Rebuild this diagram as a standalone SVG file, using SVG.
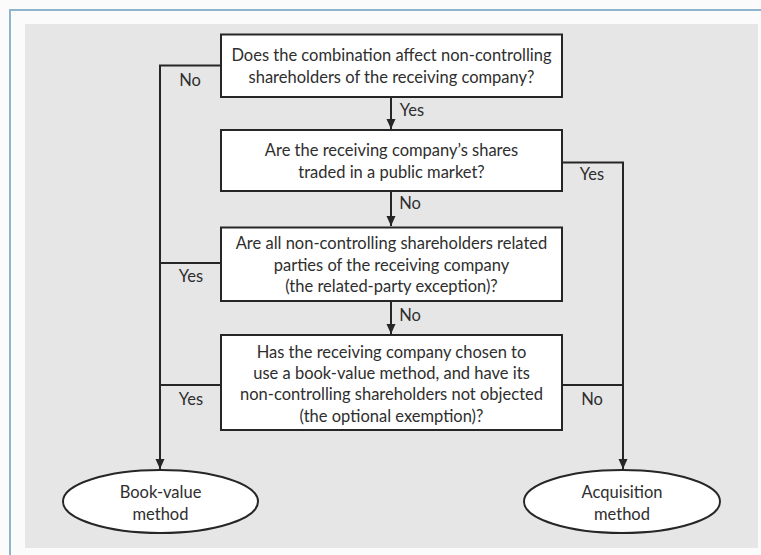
<svg xmlns="http://www.w3.org/2000/svg" width="761" height="555" viewBox="0 0 761 555">
  <style>
    .box { fill: #ffffff; stroke: #262626; stroke-width: 2; }
    .end { fill: #ffffff; stroke: #262626; stroke-width: 2; }
    .wire { fill: none; stroke: #262626; stroke-width: 2; }
    text { font-family: Lato, "Liberation Sans", sans-serif; font-size: 16.5px; fill: #2e2e2e; }
    .c { text-anchor: middle; }
  </style>
  <defs>
    <marker id="arrow" viewBox="0 0 10 12" refX="10" refY="6" markerWidth="10" markerHeight="12" markerUnits="userSpaceOnUse" orient="auto">
      <path d="M0,1.5 L10,6 L0,10.5 Z" fill="#262626"/>
    </marker>
  </defs>

  <!-- page frame and panel -->
  <rect x="0" y="0" width="761" height="555" fill="#fbfbfb"/>
  <path d="M10,555 V10 H761" fill="none" stroke="#8fb5cc" stroke-width="2"/>
  <rect x="25" y="24" width="733" height="524" fill="#e6e6e7"/>

  <!-- connectors -->
  <g id="connectors">
    <path class="wire" d="M221,65.5 H160 V469" marker-end="url(#arrow)"/>
    <path class="wire" d="M221,263 H160"/>
    <path class="wire" d="M221,385 H160"/>
    <path class="wire" d="M562,162.5 H623 V469" marker-end="url(#arrow)"/>
    <path class="wire" d="M562,385 H623"/>
    <path class="wire" d="M391,97 V129" marker-end="url(#arrow)"/>
    <path class="wire" d="M391,191 V226" marker-end="url(#arrow)"/>
    <path class="wire" d="M391,301 V334" marker-end="url(#arrow)"/>
    <text x="190" y="86" class="c">No</text>
    <text x="412" y="116" class="c">Yes</text>
    <text x="592" y="180" class="c">Yes</text>
    <text x="410" y="209" class="c">No</text>
    <text x="191" y="282" class="c">Yes</text>
    <text x="410" y="321" class="c">No</text>
    <text x="191" y="405" class="c">Yes</text>
    <text x="592" y="405" class="c">No</text>
  </g>

  <g id="q1">
    <rect class="box" x="221" y="34.5" width="341" height="62.5"/>
    <text class="c" x="391.5" y="61">Does the combination affect non-controlling</text>
    <text class="c" x="391.5" y="83">shareholders of the receiving company?</text>
  </g>

  <g id="q2">
    <rect class="box" x="221" y="130" width="341" height="61"/>
    <text class="c" x="391.5" y="156">Are the receiving company’s shares</text>
    <text class="c" x="391.5" y="178">traded in a public market?</text>
  </g>

  <g id="q3">
    <rect class="box" x="221" y="227.5" width="341" height="73.5"/>
    <text class="c" x="391.5" y="249">Are all non-controlling shareholders related</text>
    <text class="c" x="391.5" y="271">parties of the receiving company</text>
    <text class="c" x="391.5" y="292">(the related-party exception)?</text>
  </g>

  <g id="q4">
    <rect class="box" x="221" y="335" width="341" height="95"/>
    <text class="c" x="391.5" y="358">Has the receiving company chosen to</text>
    <text class="c" x="391.5" y="379">use a book-value method, and have its</text>
    <text class="c" x="391.5" y="400">non-controlling shareholders not objected</text>
    <text class="c" x="391.5" y="422">(the optional exemption)?</text>
  </g>

  <g id="book-value">
    <ellipse class="end" cx="160.5" cy="501.5" rx="97.5" ry="31.5"/>
    <text class="c" x="160.5" y="498">Book-value</text>
    <text class="c" x="160.5" y="520">method</text>
  </g>

  <g id="acquisition">
    <ellipse class="end" cx="622" cy="501.5" rx="98" ry="31.5"/>
    <text class="c" x="622" y="498">Acquisition</text>
    <text class="c" x="622" y="520">method</text>
  </g>
</svg>
